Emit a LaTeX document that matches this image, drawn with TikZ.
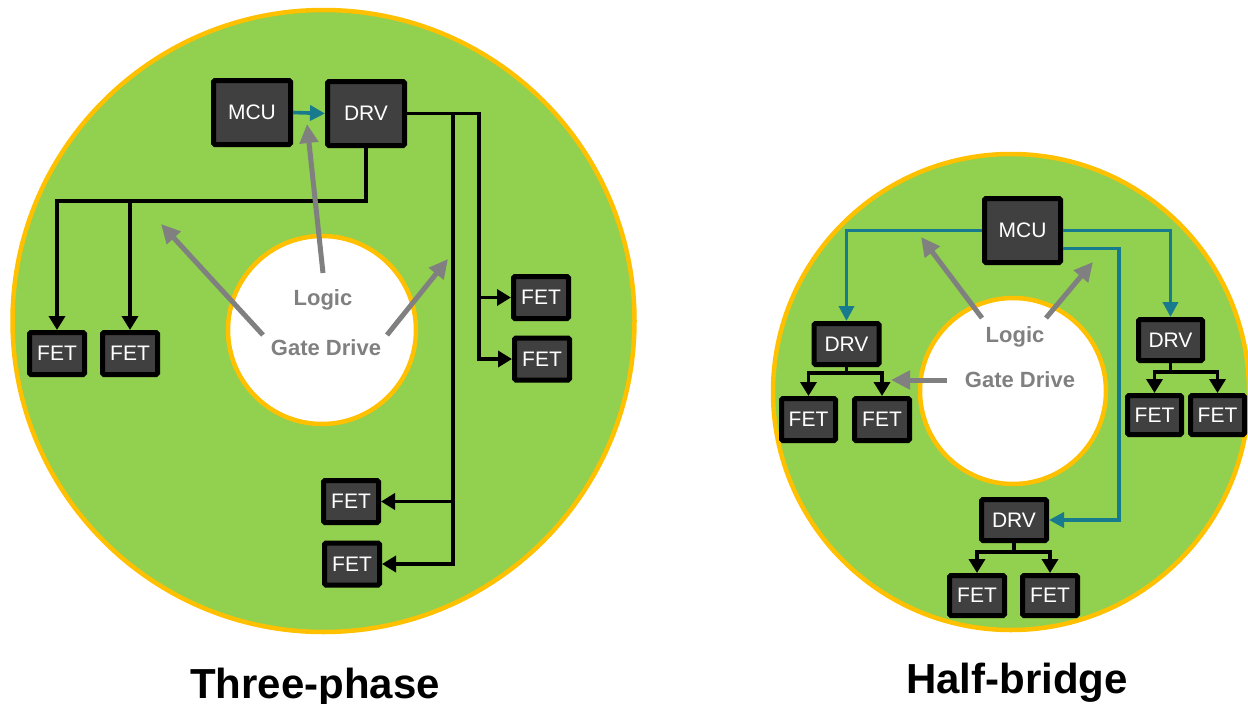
\documentclass[tikz,border=0pt]{standalone}
\usepackage{fontspec}
\setmainfont{Liberation Sans}
\usetikzlibrary{arrows.meta}
\definecolor{ringgreen}{HTML}{92D050}
\definecolor{ringorange}{HTML}{FFC000}
\definecolor{boxgray}{HTML}{404040}
\definecolor{labelgray}{HTML}{808080}
\definecolor{tealline}{HTML}{177B8D}
\begin{document}
\begin{tikzpicture}[x=1pt,y=-1pt,
  box/.style={draw=black, line width=5pt, fill=boxgray, rounded corners=1.5pt,
    text=white, font=\fontsize{21}{24}\selectfont, inner sep=0pt},
  bigbox/.style={box, minimum width=77pt, minimum height=64pt},
  drvbox/.style={box, minimum width=65pt, minimum height=41pt},
  fetbox/.style={box, minimum width=55pt, minimum height=42pt},
  ln/.style={draw=black, line width=3.6pt, line join=miter},
  arr/.style={ln, -{Triangle[length=14pt,width=16pt]}},
  tarr/.style={draw=tealline, line width=3.6pt, line join=miter, -{Triangle[length=15pt,width=15pt]}},
  garr/.style={draw=labelgray, line width=5pt, -{Triangle[length=19pt,width=18pt]}},
  lbl/.style={text=labelgray, font=\fontsize{22}{26}\selectfont\bfseries},
  title/.style={text=black, font=\fontsize{42}{48}\selectfont\bfseries, anchor=base},
  ring/.style={draw=ringorange, line width=4.5pt, fill=ringgreen},
  hole/.style={draw=ringorange, line width=4.5pt, fill=white}
]
\useasboundingbox (0,0) rectangle (1248,704);
\fill[white] (0,0) rectangle (1248,704);

% ---------- Three-phase ----------
\draw[ring] (323.5,321) circle[radius=311];
\draw[hole] (322,330) circle[radius=94];

\node[bigbox] (mcu1) at (252,112.5) {MCU};
\node[bigbox] (drv1) at (366,113.5) {DRV};
\node[fetbox] (fL1) at (57,353.5) {FET};
\node[fetbox] (fL2) at (130,353.5) {FET};
\node[fetbox] (fR1) at (541,297.5) {FET};
\node[fetbox] (fR2) at (542,359) {FET};
\node[fetbox] (fB1) at (351,501.5) {FET};
\node[fetbox] (fB2) at (352,564) {FET};

\coordinate (dL) at (366,201);
\coordinate (vR) at (479,0);
\coordinate (vB) at (453,0);

\draw[tarr] (mcu1.east) -- (drv1.west);
\draw[arr] (drv1.south) |- (fL1.north |- dL) -- (fL1.north);
\draw[arr] (fL2.north |- dL) -- (fL2.north);
\draw[arr] (drv1.east) -| (vR |- fR2.west) -- (fR2.west);
\draw[arr] (vR |- fR1.west) -- (fR1.west);
\draw[arr] (vB |- drv1.east) |- (fB2.east);
\draw[arr] (vB |- fB1.east) -- (fB1.east);

\node[lbl] (logic1) at (323,300) {Logic};
\node[lbl] (gate1) at (326,348) {Gate Drive};
\coordinate (g1a) at (323,273);
\coordinate (g1b) at (307,124);
\coordinate (g2a) at (263,335);
\coordinate (g2b) at (161,224);
\coordinate (g3a) at (387,335);
\coordinate (g3b) at (448,259);
\draw[garr] (g1a) -- (g1b);
\draw[garr] (g2a) -- (g2b);
\draw[garr] (g3a) -- (g3b);

\node[title] (t1) at (315,698) {Three-phase};

% ---------- Half-bridge ----------
\draw[ring] (1011,392) circle[radius=238];
\draw[hole] (1013,391) circle[radius=93];

\node[bigbox, minimum width=76pt] (mcu2) at (1022.5,230.5) {MCU};
\node[drvbox] (drvA) at (846.5,344) {DRV};
\node[drvbox, minimum width=64pt] (drvB) at (1170.5,340) {DRV};
\node[drvbox] (drvC) at (1014,520) {DRV};
\node[fetbox, minimum width=54pt] (fA1) at (808.5,419.5) {FET};
\node[fetbox] (fA2) at (882,419.5) {FET};
\node[fetbox, minimum width=54pt, minimum height=39pt] (fB1r) at (1154.5,415) {FET};
\node[fetbox, minimum width=54pt, minimum height=39pt] (fB2r) at (1217.5,415) {FET};
\node[fetbox, minimum height=40pt] (fC1) at (977,595.5) {FET};
\node[fetbox, minimum height=40pt] (fC2) at (1050,595.5) {FET};

\coordinate (vT) at (1119,0);
\coordinate (jA) at (846.5,373);
\coordinate (jB) at (1170.5,372);
\coordinate (jC) at (1014,552);

\draw[tarr] (mcu2.west) -| (drvA.north);
\draw[tarr] (mcu2.east) -| (drvB.north);
\draw[tarr] ([yshift=-18pt]mcu2.east) -| (vT |- drvC.east) -- (drvC.east);

\draw[arr] (drvA.south) |- (fA1.north |- jA) -- (fA1.north);
\draw[arr] (jA) -| (fA2.north);
\draw[arr] (drvB.south) |- (fB1r.north |- jB) -- (fB1r.north);
\draw[arr] (jB) -| (fB2r.north);
\draw[arr] (drvC.south) |- (fC1.north |- jC) -- (fC1.north);
\draw[arr] (jC) -| (fC2.north);

\node[lbl] (logic2) at (1015,337) {Logic};
\node[lbl] (gate2) at (1020,380) {Gate Drive};
\coordinate (h1a) at (982,318);
\coordinate (h1b) at (921,237);
\coordinate (h2a) at (1046,318);
\coordinate (h2b) at (1093,262);
\coordinate (h3a) at (947,380);
\coordinate (h3b) at (891,380);
\draw[garr] (h1a) -- (h1b);
\draw[garr] (h2a) -- (h2b);
\draw[garr] (h3a) -- (h3b);

\node[title] (t2) at (1017,693) {Half-bridge};
\end{tikzpicture}
\end{document}
